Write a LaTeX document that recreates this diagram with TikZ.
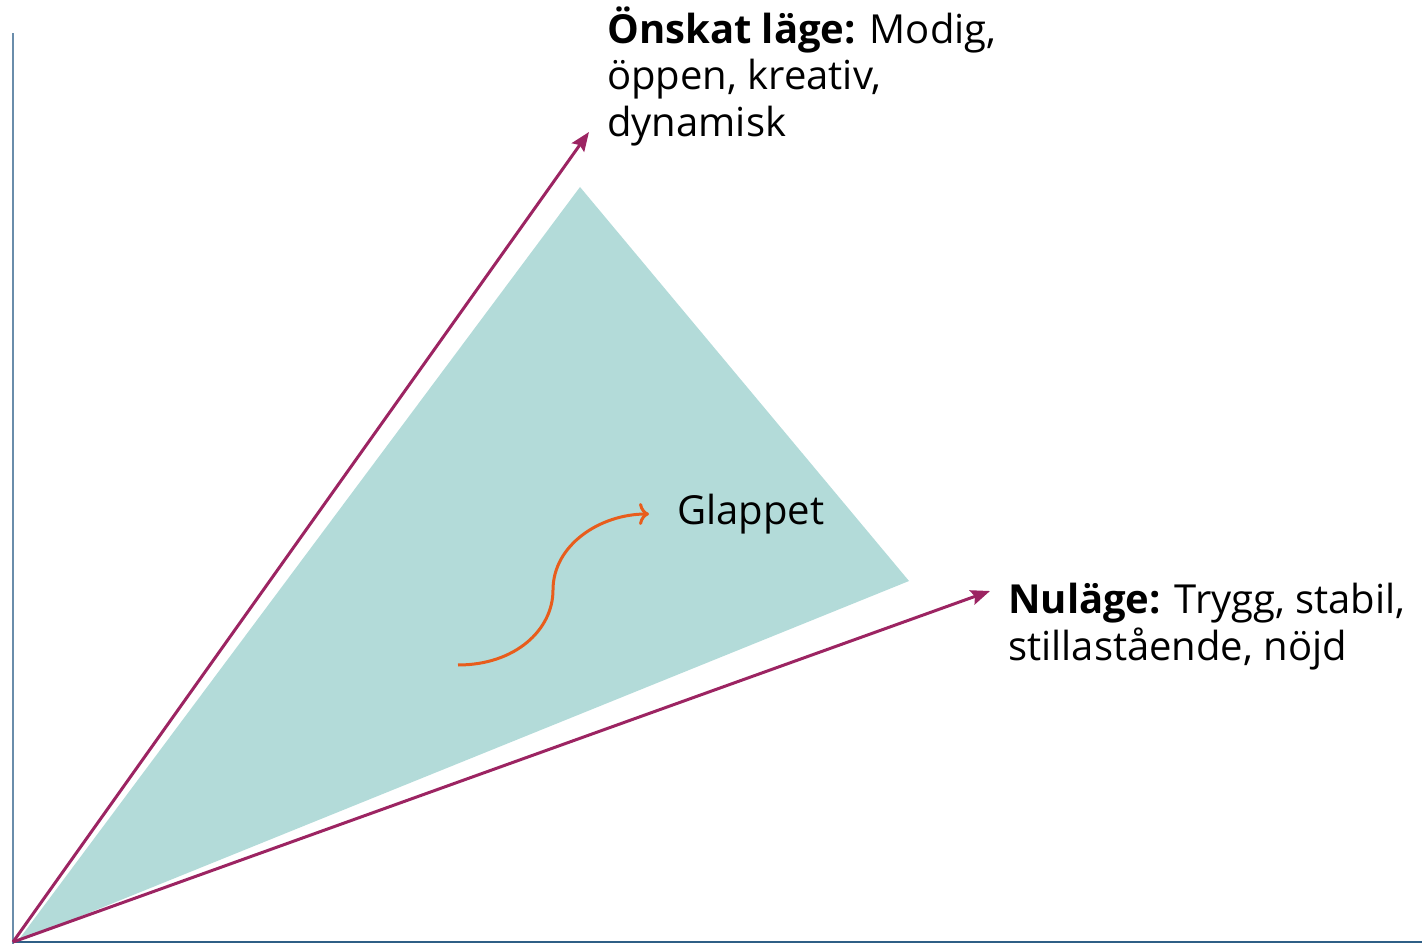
\documentclass[tikz,border=0pt]{standalone}
\usepackage{fontspec}
\setmainfont{Open Sans}
\usetikzlibrary{arrows.meta}
\definecolor{tealfill}{HTML}{B3DBD9}
\definecolor{magentaline}{HTML}{9C2462}
\definecolor{orangeline}{HTML}{E85D1C}
\definecolor{vaxiscol}{HTML}{6A8DAB}
\definecolor{haxiscol}{HTML}{2F5F86}
\tikzset{
  magarrow/.style={draw=magentaline, line width=3pt, -{Stealth[length=19pt,width=15pt,inset=3pt]}},
  lbl/.style={anchor=base west, inner sep=0pt, font=\fontsize{40}{48}\selectfont},
}
\begin{document}
\begin{tikzpicture}[x=1pt,y=-1pt]
\useasboundingbox (0,0) rectangle (1422,944);
\fill[tealfill] (17,942) -- (580,187) -- (909,581) -- cycle;
\draw[vaxiscol, line width=2.5pt] (13,944) -- (13,33);
\draw[haxiscol, line width=2.5pt] (13,942) -- (1422,942);
\coordinate (O) at (13,942);
\coordinate (A) at (589,132);
\coordinate (B) at (990,591);
\draw[magarrow] (O) -- (A);
\draw[magarrow] (O) -- (B);
\coordinate (S) at (458,665);
\coordinate (M) at (553,590);
\coordinate (E) at (649,514);
\draw[orangeline, line width=3pt, -{To[length=10pt,width=22pt]}] (S) .. controls (515,665) and (553,630) .. (M) .. controls (553,545) and (600,514) .. (E);
\node[lbl] (t1) at (607,44) {\textbf{Önskat läge:} Modig,};
\node[lbl] (t2) at (607,90) {öppen, kreativ,};
\node[lbl] (t3) at (607,137) {dynamisk};
\node[lbl] (g) at (677,524) {Glappet};
\node[lbl] (n1) at (1008,613) {\textbf{Nuläge:} Trygg, stabil,};
\node[lbl] (n2) at (1008,660) {stillastående, nöjd};
\end{tikzpicture}
\end{document}
